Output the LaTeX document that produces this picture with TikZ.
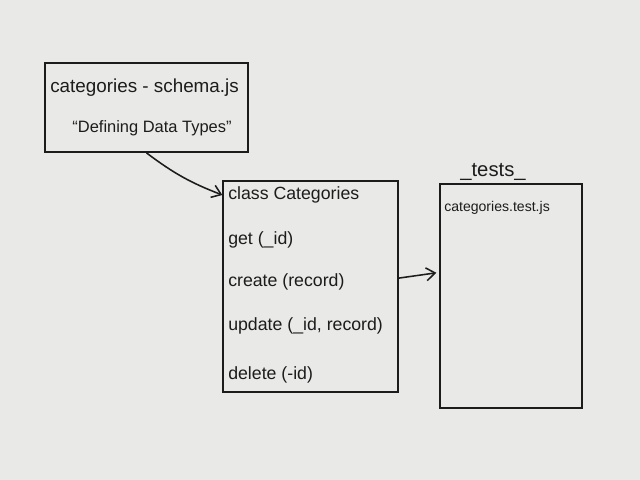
\documentclass[tikz,border=0pt]{standalone}
\usepackage{fontspec}
\setmainfont{Liberation Sans}
\definecolor{paperGrey}{RGB}{233, 233, 231}
\definecolor{inkBlack}{RGB}{28, 28, 28}
\usepackage{tikz}
\usetikzlibrary{positioning,calc,arrows.meta}

\tikzset{
  sketchbox/.style={draw=inkBlack,line width=1.1pt,rectangle,inner sep=0pt},
  sketchtext/.style={text=inkBlack,anchor=west,inner sep=0pt},
  sketcharrow/.style={draw=inkBlack,line width=1.1pt,-{Straight Barb[length=2.2mm,width=3.2mm]}}
}

\begin{document}
\begin{tikzpicture}[x=0.025cm,y=-0.025cm]
    % paper
    \fill[paperGrey] (0,0) rectangle (640,480);
    \useasboundingbox (0,0) rectangle (640,480);
    % schema file box
    \node[sketchbox,minimum width=5.08cm,minimum height=2.23cm] (schema) at (146.5,107.5) {};
    \node[sketchtext,font=\fontsize{13.4}{16}\selectfont] (schemaname) at (50,88) {categories - schema.js};
    \node[sketchtext,anchor=center,font=\fontsize{11.7}{14}\selectfont] (schemanote) at (152,128) {``Defining Data Types''};
    % class box
    \node[sketchbox,minimum width=4.38cm,minimum height=5.28cm] (class) at (310.5,286.5) {};
    \node[sketchtext,font=\fontsize{12.6}{15}\selectfont] (classname) at (228,195) {class Categories};
    \node[sketchtext,font=\fontsize{12.6}{15}\selectfont] (getfn) at (228,240) {get (\_id)};
    \node[sketchtext,font=\fontsize{12.6}{15}\selectfont] (createfn) at (228,282) {create (record)};
    \node[sketchtext,font=\fontsize{12.6}{15}\selectfont] (updatefn) at (228,326) {update (\_id, record)};
    \node[sketchtext,font=\fontsize{12.6}{15}\selectfont] (deletefn) at (228,375) {delete (-id)};
    % tests box
    \node[sketchbox,minimum width=3.55cm,minimum height=5.6cm] (tests) at (511,296) {};
    \node[sketchtext,anchor=center,font=\Large] (testslabel) at (493,172) {\_tests\_};
    \node[sketchtext,font=\fontsize{10}{12}\selectfont] (testfile) at (444,208) {categories.test.js};
    % arrows
    \draw[sketcharrow] (schema.south) to[bend right=8] ([xshift=-4pt]classname.west);
    \draw[sketcharrow] ([yshift=0.21cm]class.east) -- ([yshift=0.58cm,xshift=-2pt]tests.west);
\end{tikzpicture}
\end{document}
